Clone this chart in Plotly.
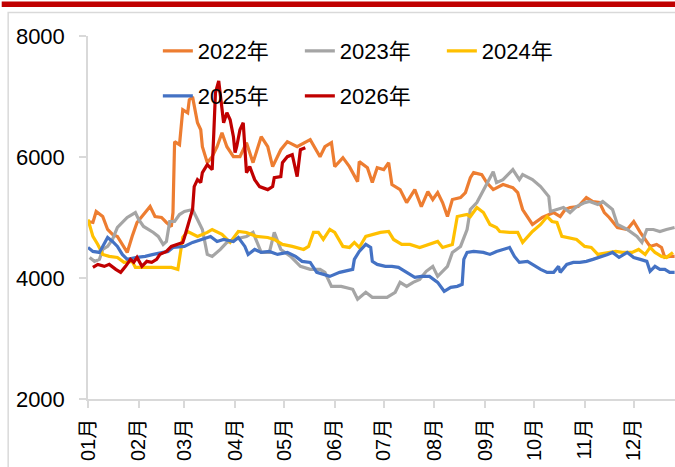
import plotly.graph_objects as go

# 各年度价格走势（按日历月日对齐）
dates_2022 = ["01-01", "01-04", "01-06", "01-10", "01-13", "01-16", "01-19", "01-25", "01-28", "01-31",
              "02-03", "02-08", "02-11", "02-15", "02-18", "02-21", "02-22", "02-23", "02-26", "02-28",
              "03-03", "03-04", "03-06", "03-09", "03-11", "03-12", "03-15", "03-18", "03-21", "03-24",
              "03-27", "03-31", "04-04", "04-08", "04-12", "04-17", "04-21", "04-24", "04-29", "05-03",
              "05-09", "05-17", "05-23", "05-26", "05-30", "06-01", "06-06", "06-10", "06-15", "06-16",
              "06-21", "06-24", "06-27", "07-01", "07-04", "07-06", "07-11", "07-15", "07-20", "07-24",
              "07-28", "07-31", "08-03", "08-06", "08-09", "08-12", "08-17", "08-20", "08-23", "08-25",
              "08-30", "09-02", "09-06", "09-12", "09-18", "09-21", "09-24", "09-29", "09-30", "10-06",
              "10-13", "10-17", "10-20", "10-23", "10-28", "11-02", "11-06", "11-10", "11-13", "11-16",
              "11-21", "11-27", "12-01", "12-05", "12-08", "12-11", "12-15", "12-18", "12-20", "12-23",
              "12-26"]
vals_2022 = [4934, 4918, 5099, 5016, 4802, 4720, 4687, 4423, 4687, 4918,
             5016, 5181, 5016, 5000, 4918, 4852, 5082, 6253, 6203, 6780,
             6731, 6945, 6994, 6566, 6450, 6170, 5907, 6005, 6170, 6401,
             6170, 6005, 6005, 6236, 5907, 6335, 6170, 5841, 6121, 6253,
             6170, 6286, 6005, 6170, 6236, 5841, 5989, 5841, 5593, 5923,
             5824, 5577, 5824, 5791, 5907, 5544, 5461, 5247, 5461, 5181,
             5428, 5297, 5412, 5247, 5016, 5297, 5330, 5412, 5659, 5742,
             5709, 5577, 5461, 5544, 5494, 5412, 5132, 4918, 4885, 5000,
             5082, 5016, 5132, 5165, 5181, 5330, 5264, 5247, 5082, 5000,
             4835, 4802, 4934, 4753, 4637, 4522, 4555, 4505, 4340, 4357,
             4357]

dates_2023 = ["01-02", "01-05", "01-08", "01-10", "01-13", "01-16", "01-19", "01-22", "01-25", "01-30",
              "02-01", "02-04", "02-07", "02-10", "02-13", "02-16", "02-18", "02-20", "02-23", "02-26",
              "03-01", "03-06", "03-09", "03-12", "03-15", "03-18", "03-23", "03-27", "03-31", "04-08",
              "04-12", "04-17", "04-22", "04-25", "04-29", "05-05", "05-11", "05-17", "05-23", "05-26",
              "05-30", "06-05", "06-12", "06-15", "06-20", "06-24", "07-03", "07-08", "07-11", "07-15",
              "07-19", "07-23", "07-27", "07-31", "08-03", "08-09", "08-12", "08-17", "08-21", "08-23",
              "08-27", "09-01", "09-04", "09-06", "09-08", "09-12", "09-18", "09-22", "09-24", "09-30",
              "10-05", "10-10", "10-11", "10-15", "10-19", "10-23", "10-27", "11-01", "11-04", "11-09",
              "11-12", "11-18", "11-21", "11-27", "12-03", "12-06", "12-09", "12-13", "12-17", "12-21",
              "12-26"]
vals_2023 = [4340, 4275, 4308, 4472, 4522, 4637, 4835, 4918, 5000, 5082,
             4967, 4852, 4802, 4753, 4687, 4555, 4604, 4934, 4934, 5049,
             5099, 5132, 4967, 4802, 4390, 4357, 4472, 4588, 4637, 4687,
             4753, 4423, 4423, 4753, 4472, 4357, 4192, 4143, 4143, 4093,
             3862, 3862, 3813, 3648, 3764, 3681, 3681, 3764, 3928, 3862,
             3928, 3978, 4110, 4192, 4027, 4192, 4423, 4522, 4802, 5132,
             5247, 5511, 5676, 5758, 5577, 5626, 5791, 5626, 5709, 5626,
             5511, 5346, 5099, 5132, 5165, 5082, 5181, 5247, 5264, 5214,
             5264, 5132, 4885, 4802, 4687, 4588, 4802, 4802, 4769, 4802,
             4835]

dates_2024 = ["01-01", "01-04", "01-07", "01-10", "01-14", "01-19", "01-23", "01-28", "01-30", "02-05",
              "02-13", "02-21", "02-25", "02-28", "03-03", "03-09", "03-15", "03-18", "03-24", "03-29",
              "04-03", "04-08", "04-14", "04-21", "04-25", "04-30", "05-06", "05-13", "05-16", "05-19",
              "05-22", "05-25", "05-29", "06-01", "06-06", "06-10", "06-13", "06-16", "06-20", "06-24",
              "06-29", "07-04", "07-07", "07-12", "07-17", "07-23", "07-29", "08-03", "08-06", "08-12",
              "08-15", "08-21", "08-23", "08-27", "08-31", "09-04", "09-08", "09-10", "09-16", "09-21",
              "09-24", "09-27", "09-30", "10-05", "10-09", "10-12", "10-15", "10-18", "10-22", "10-27",
              "11-01", "11-05", "11-09", "11-15", "11-20", "11-24", "11-30", "12-04", "12-08", "12-11",
              "12-14", "12-18", "12-21", "12-25"]
vals_2024 = [4967, 4687, 4555, 4390, 4357, 4340, 4258, 4275, 4176, 4176,
             4176, 4176, 4143, 4670, 4769, 4687, 4753, 4802, 4720, 4588,
             4769, 4753, 4687, 4670, 4637, 4555, 4522, 4472, 4522, 4753,
             4753, 4637, 4802, 4753, 4522, 4505, 4588, 4505, 4687, 4720,
             4753, 4769, 4637, 4555, 4555, 4505, 4555, 4604, 4505, 4555,
             5016, 5049, 5016, 5165, 5082, 4885, 4835, 4769, 4753, 4753,
             4588, 4687, 4769, 4885, 5016, 4934, 4918, 4687, 4670, 4637,
             4522, 4505, 4390, 4423, 4439, 4423, 4423, 4472, 4390, 4505,
             4423, 4357, 4340, 4423]

dates_2025 = ["01-01", "01-04", "01-08", "01-10", "01-13", "01-16", "01-19", "01-22", "01-25", "01-31",
              "02-05", "02-10", "02-15", "02-19", "02-22", "03-01", "03-06", "03-12", "03-17", "03-21",
              "03-25", "03-31", "04-03", "04-07", "04-09", "04-13", "04-17", "04-22", "04-27", "05-03",
              "05-08", "05-12", "05-17", "05-21", "05-25", "05-29", "06-04", "06-12", "06-13", "06-15",
              "06-16", "06-20", "06-23", "06-24", "06-27", "07-02", "07-06", "07-10", "07-15", "07-20",
              "07-24", "07-29", "08-03", "08-07", "08-11", "08-15", "08-18", "08-19", "08-21", "08-25",
              "08-31", "09-04", "09-08", "09-12", "09-16", "09-19", "09-22", "09-27", "09-30", "10-05",
              "10-09", "10-13", "10-16", "10-17", "10-21", "10-25", "10-29", "11-02", "11-06", "11-10",
              "11-15", "11-18", "11-22", "11-27", "12-01", "12-05", "12-09", "12-11", "12-14", "12-17",
              "12-20", "12-23", "12-26"]
vals_2025 = [4505, 4439, 4423, 4522, 4670, 4604, 4522, 4390, 4308, 4340,
             4357, 4390, 4423, 4439, 4505, 4522, 4588, 4637, 4687, 4604,
             4637, 4604, 4670, 4522, 4390, 4472, 4423, 4439, 4390, 4423,
             4357, 4275, 4258, 4093, 4060, 4027, 4093, 4143, 4308, 4390,
             4439, 4555, 4505, 4275, 4225, 4192, 4192, 4176, 4093, 4011,
             4027, 4027, 3928, 3780, 3846, 3862, 3895, 4308, 4423, 4439,
             4423, 4390, 4439, 4472, 4505, 4357, 4258, 4275, 4225, 4143,
             4093, 4093, 4192, 4093, 4225, 4258, 4258, 4275, 4308, 4340,
             4390, 4423, 4340, 4423, 4340, 4308, 4275, 4110, 4192, 4143,
             4143, 4093, 4093]

dates_2026 = ["01-04", "01-07", "01-11", "01-14", "01-18", "01-21", "01-24", "01-27", "01-29", "01-31",
              "02-03", "02-06", "02-09", "02-12", "02-14", "02-18", "02-21", "02-24", "02-28", "03-01",
              "03-03", "03-06", "03-07", "03-09", "03-11", "03-12", "03-15", "03-18", "03-19", "03-20",
              "03-22", "03-24", "03-25", "03-27", "03-29", "03-31", "04-01", "04-02", "04-04", "04-06",
              "04-07", "04-08", "04-10", "04-13", "04-16", "04-21", "04-24", "04-25", "04-29", "04-30",
              "05-03", "05-06", "05-09", "05-11", "05-14"]
vals_2026 = [4176, 4225, 4192, 4225, 4143, 4093, 4192, 4308, 4258, 4340,
             4192, 4275, 4258, 4308, 4390, 4439, 4522, 4555, 4588, 4670,
             4852, 5132, 5511, 5626, 5577, 5742, 5874, 5791, 6401, 7060,
             7258, 6731, 6566, 6731, 6615, 6335, 6071, 6170, 6450, 6566,
             6170, 5742, 5841, 5626, 5511, 5461, 5511, 5659, 5676, 5907,
             6005, 6038, 5676, 6121, 6154]

series = [
    ("2022年", dates_2022, vals_2022, "#ED7D31", "legend"),
    ("2023年", dates_2023, vals_2023, "#A5A5A5", "legend"),
    ("2024年", dates_2024, vals_2024, "#FFC000", "legend"),
    ("2025年", dates_2025, vals_2025, "#4472C4", "legend2"),
    ("2026年", dates_2026, vals_2026, "#C00000", "legend2"),
]

y_ticks = [2000, 4000, 6000, 8000]

fig = go.Figure()
for name, dates, vals, color, leg in series:
    fig.add_trace(go.Scatter(
        x=["2001-" + d for d in dates],
        y=vals,
        mode="lines",
        name=name,
        legend=leg,
        line=dict(color=color, width=3.2)
    ))

font_main = "Liberation Sans, Noto Sans CJK SC, sans-serif"
legend_style = dict(
    orientation="h",
    xanchor="left",
    yanchor="middle",
    x=0.119,
    bgcolor="rgba(0,0,0,0)",
    font=dict(family=font_main, size=22, color="#000000"),
    entrywidthmode="pixels",
    entrywidth=97,
)

fig.update_layout(
    width=675,
    height=467,
    margin=dict(l=88, r=0, t=36, b=68, autoexpand=False),
    paper_bgcolor="white",
    plot_bgcolor="white",
    showlegend=True,
    legend=dict(legend_style, y=0.9587),
    legend2=dict(legend_style, y=0.8347),
    xaxis=dict(
        type="date",
        automargin=False,
        range=["2001-01-01", "2001-12-26 06:00"],
        tick0="2001-01-01",
        dtick="M1",
        tickformat="%m月",
        tickangle=-90,
        ticks="outside",
        ticklen=7,
        tickcolor="#D9D9D9",
        tickwidth=1.5,
        ticklabelstandoff=3,
        showline=True,
        linecolor="#D9D9D9",
        linewidth=1.5,
        showgrid=False,
        zeroline=False,
        tickfont=dict(family=font_main, size=20, color="#000000"),
    ),
    yaxis=dict(
        automargin=False,
        range=[2000, 8000],
        tickvals=y_ticks,
        ticks="outside",
        ticklen=7,
        tickcolor="#D9D9D9",
        tickwidth=1.5,
        ticklabelstandoff=10,
        showline=True,
        linecolor="#D9D9D9",
        linewidth=1.5,
        showgrid=False,
        zeroline=False,
        tickfont=dict(family=font_main, size=22, color="#000000"),
    ),
    shapes=[
        # 顶部红色装饰条
        dict(type="rect", xref="paper", yref="paper",
             x0=-0.147, x1=1.1, y0=1.080, y1=1.095,
             fillcolor="#C00000", line=dict(width=0), layer="below"),
        # 外框
        dict(type="rect", xref="paper", yref="paper",
             x0=-0.136, x1=1.1, y0=-0.3, y1=1.065,
             line=dict(color="#D9D9D9", width=1.5), layer="below"),
    ],
)

# 去掉页面默认边距，使图表贴齐窗口左上角
fig.write_html("out.html", config={"displayModeBar": False},
               post_script="document.body.style.margin='0';")
